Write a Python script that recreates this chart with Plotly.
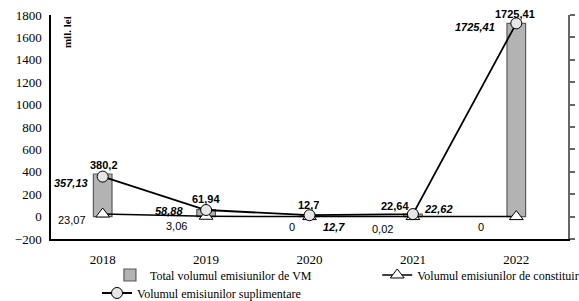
import plotly.graph_objects as go

years = ["2018", "2019", "2020", "2021", "2022"]
total_vm = [380.2, 61.94, 12.7, 22.64, 1725.41]
constituire = [23.07, 3.06, 0, 0.02, 0]
suplimentare = [357.13, 58.88, 12.7, 22.62, 1725.41]

lbl_total = ["380,2", "61,94", "12,7", "22,64", "1725,41"]
lbl_constituire = ["23,07", "3,06", "0", "0,02", "0"]
lbl_suplimentare = ["357,13", "58,88", "12,7", "22,62", "1725,41"]

name_total = "Total volumul emisiunilor de VM"
name_constituire = "Volumul emisiunilor de constituire"
name_suplimentare = "Volumul emisiunilor suplimentare"

SERIF = "Liberation Serif, Times New Roman, serif"
SANS = "Liberation Sans, Arial, sans-serif"

fig = go.Figure()

fig.add_trace(go.Bar(
    x=years, y=total_vm, name=name_total, width=0.18,
    marker=dict(color="#b3b3b3", line=dict(color="#5a5a5a", width=1.2)),
    legend="legend",
))
fig.add_trace(go.Scatter(
    x=years, y=constituire, name=name_constituire, mode="lines+markers",
    line=dict(color="black", width=1.5),
    marker=dict(symbol="triangle-up", size=12, color="white", line=dict(color="black", width=1)),
    legend="legend2",
))
fig.add_trace(go.Scatter(
    x=years, y=suplimentare, name=name_suplimentare, mode="lines+markers",
    line=dict(color="black", width=1.8),
    marker=dict(symbol="circle", size=11, color="#e6e6e6", line=dict(color="black", width=1)),
    legend="legend3",
))
# secondary (right) axis carrier (no visible marks)
fig.add_trace(go.Scatter(x=years, y=[None] * len(years), yaxis="y2", showlegend=False,
                         hoverinfo="skip", mode="lines"))

# label offsets (pixels)
off_total = [(1, 9), (0, 11), (-1, 10), (-18, 8), (-1, 9)]
off_supl = [(-32, -6), (-37, -1), (24, -12), (26, 5), (-41, -4)]
off_const = [(-31, -6), (-30, -10), (-18, -10), (-30, -12), (-35, -10)]

ann = []
for i in range(len(years)):
    # category axis position = index of the category
    dx, dy = off_total[i]
    ann.append(dict(x=i, y=total_vm[i], xref="x", yref="y", text="<b>" + lbl_total[i] + "</b>",
                    showarrow=False, xshift=dx, yshift=dy,
                    font=dict(family=SANS, size=11, color="black")))
    dx, dy = off_supl[i]
    ann.append(dict(x=i, y=suplimentare[i], xref="x", yref="y", text="<b><i>" + lbl_suplimentare[i] + "</i></b>",
                    showarrow=False, xshift=dx, yshift=dy,
                    font=dict(family=SANS, size=11, color="black")))
    dx, dy = off_const[i]
    ann.append(dict(x=i, y=constituire[i], xref="x", yref="y", text=lbl_constituire[i],
                    showarrow=False, xshift=dx, yshift=dy,
                    font=dict(family=SANS, size=11, color="black")))

ann.append(dict(x=0.031, y=0.924, xref="paper", yref="paper", xanchor="center", yanchor="middle",
                text="<b>mil. lei</b>", textangle=-90,
                showarrow=False, font=dict(family=SERIF, size=11, color="black")))

legend_font = dict(family=SERIF, size=12, color="black")

fig.update_layout(
    width=579, height=301,
    margin=dict(l=51, r=11, t=15, b=62, autoexpand=False),
    paper_bgcolor="white", plot_bgcolor="white",
    font=dict(family=SERIF, size=13, color="black"),
    annotations=ann,
    xaxis=dict(type="category", range=[-0.5, len(years) - 0.5], showline=True, linecolor="black",
               linewidth=1.5, ticks="outside", ticklen=8, tickcolor="rgba(0,0,0,0)",
               showgrid=False, zeroline=False,
               tickfont=dict(family=SERIF, size=13, color="black")),
    yaxis=dict(range=[-200, 1800], dtick=200, showline=True, linecolor="black", linewidth=1.5,
               ticks="outside", ticklen=5, tickcolor="rgba(0,0,0,0)", showgrid=False, zeroline=False,
               tickfont=dict(family=SERIF, size=13, color="black")),
    yaxis2=dict(range=[-200, 1800], dtick=200, overlaying="y", side="right", showline=True,
                linecolor="#666666", linewidth=2, ticks="outside", ticklen=5, tickcolor="#666666",
                tickwidth=1.5, showticklabels=False, showgrid=False, zeroline=False),
    showlegend=True,
    legend=dict(x=0.114, y=-0.1607, xanchor="left", yanchor="middle", font=legend_font,
                bgcolor="rgba(0,0,0,0)"),
    legend2=dict(x=0.631, y=-0.1607, xanchor="left", yanchor="middle", font=legend_font,
                 bgcolor="rgba(0,0,0,0)"),
    legend3=dict(x=0.089, y=-0.241, xanchor="left", yanchor="middle", font=legend_font,
                 bgcolor="rgba(0,0,0,0)"),
)

fig.write_html("out.html", config={"displayModeBar": False},
               post_script="document.body.style.margin='0';document.body.style.overflow='hidden';")
